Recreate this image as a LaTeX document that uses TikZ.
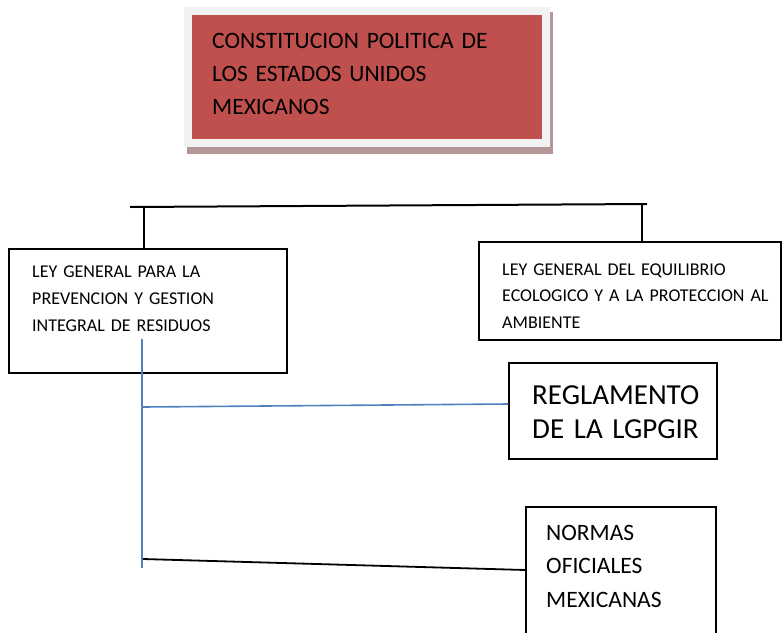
\documentclass[tikz,border=0pt]{standalone}
\usepackage{fontspec}
\setmainfont{Carlito}
\definecolor{redbox}{HTML}{C0504D}
\definecolor{framegray}{HTML}{F2F2F2}
\definecolor{shadowc}{HTML}{B39696}
\definecolor{blueline}{HTML}{4F81BD}
\begin{document}
\begin{tikzpicture}[x=1pt,y=-1pt,
  box/.style={draw=black,line width=1.5pt,inner sep=0pt,rectangle},
  txt/.style={anchor=base west,inner sep=0pt,text width=330pt,align=left},
  blk/.style={draw=black,line width=2pt},
  blu/.style={draw=blueline,line width=1.6pt}]
\useasboundingbox (0,0) rectangle (783,632);
\clip (0,0) rectangle (783,632);
% top box with frame and shadow
\fill[shadowc] (187,12) rectangle (553,154);
\fill[framegray] (184,7) rectangle (550,147);
\node[fill=redbox,inner sep=0pt,minimum width=350pt,minimum height=124pt] (cpeum) at (367,77) {};
\node[txt,font=\fontsize{23.5}{33}\selectfont] (cpeumtxt) at (212,48) {CONSTITUCION POLITICA DE\\LOS ESTADOS UNIDOS\\MEXICANOS};
% boxes
\node[box,minimum width=278pt,minimum height=124pt] (lgpgir) at (148,311) {};
\node[txt,font=\fontsize{18}{27}\selectfont] (lgpgirtxt) at (32,277) {LEY GENERAL PARA LA\\PREVENCION Y GESTION\\INTEGRAL DE RESIDUOS};
\node[box,minimum width=302pt,minimum height=98pt] (lgeepa) at (630,291) {};
\node[txt,font=\fontsize{18}{26.5}\selectfont] (lgeepatxt) at (502,275) {LEY GENERAL DEL EQUILIBRIO\\ECOLOGICO Y A LA PROTECCION AL\\AMBIENTE};
\node[box,minimum width=208pt,minimum height=96pt] (regl) at (613,411) {};
\node[txt,font=\fontsize{29}{34.5}\selectfont] (regltxt) at (532,404) {REGLAMENTO\\DE LA LGPGIR};
\node[box,minimum width=190pt,minimum height=150pt] (normas) at (621,582) {};
\node[txt,font=\fontsize{23.5}{33.5}\selectfont] (normastxt) at (546,540) {NORMAS\\OFICIALES\\MEXICANAS};
% connectors
\coordinate (hl) at (130,207);
\coordinate (hr) at (647,204);
\draw[blk] (hl) -- (hr);
\coordinate (tl) at (144,206.5);
\draw[blk] (tl) -- (tl |- lgpgir.north);
\coordinate (tr) at (642,204.3);
\draw[blk] (tr) -- (tr |- lgeepa.north);
\coordinate (bt) at (142,339);
\coordinate (bb) at (142,568);
\draw[blu] (bt) -- (bb);
\coordinate (bj) at (143,407);
\draw[blu] (bj) -- ([yshift=7pt]regl.west);
\coordinate (nj) at (143,559);
\draw[blk,line width=1.8pt] (nj) -- ([yshift=12pt]normas.west);
\end{tikzpicture}
\end{document}
